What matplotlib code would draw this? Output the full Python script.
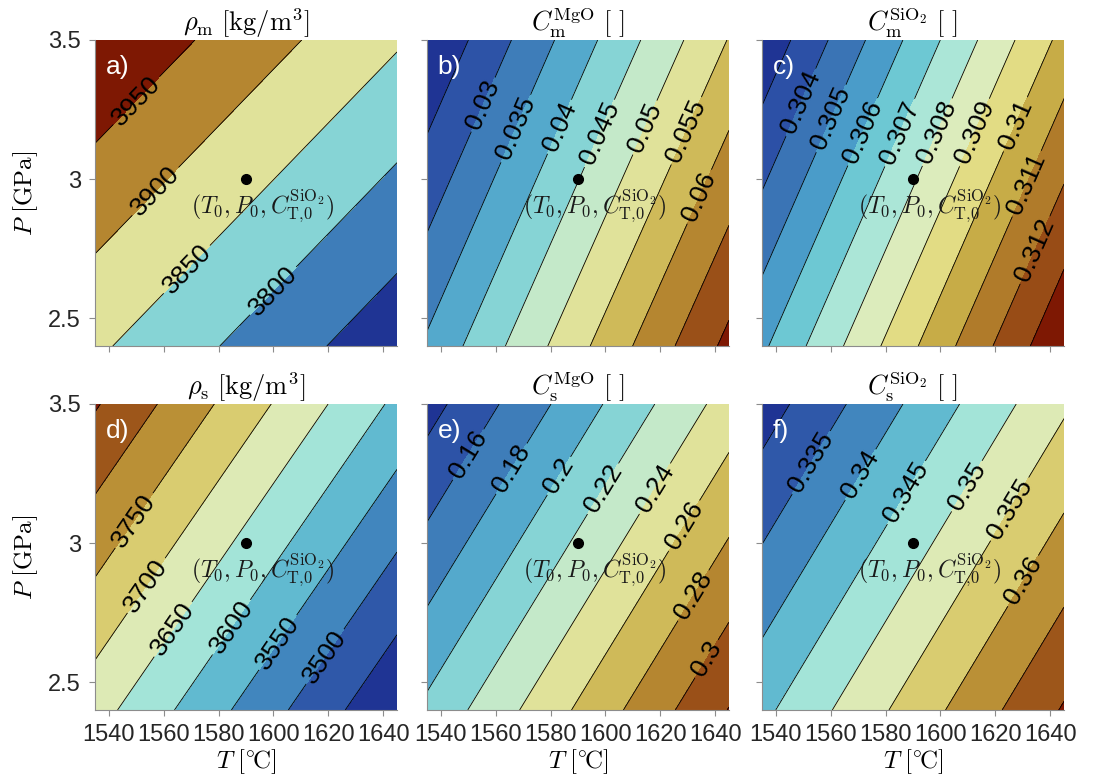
"""Six T-P contour panels: melt/solid density and MgO/SiO2 fractions."""

import matplotlib

matplotlib.use("Agg")
import matplotlib.pyplot as plt
import numpy as np
from matplotlib.colors import LinearSegmentedColormap

# T-P window of every panel (degC, GPa). The fields are planar, so the
# values at the four corners fix all contours.
T_EDGES = [1535.0, 1645.0]
P_EDGES = [2.4, 3.5]

# Corner values, rows = P (2.4, 3.5), cols = T (1535, 1645)
RHO_M = [[3858.3, 3717.2], [3996.8, 3855.4]]
C_M_MGO = [[0.03576, 0.07136], [0.0202, 0.05524]]
C_M_SIO2 = [[0.30582, 0.31390], [0.30223, 0.31031]]
RHO_S = [[3669.8, 3404.5], [3854.8, 3589.5]]
C_S_MGO = [[0.2043, 0.3207], [0.1322, 0.2486]]
C_S_SIO2 = [[0.34379, 0.37046], [0.32755, 0.35422]]

# Contour levels drawn, and the subset that carries a label
LEVELS_RHO_M = [3750, 3800, 3850, 3900, 3950]
LABELS_RHO_M = [3800, 3850, 3900, 3950]
LEVELS_C_M_MGO = [0.025, 0.03, 0.035, 0.04, 0.045, 0.05, 0.055, 0.06, 0.065, 0.07]
LABELS_C_M_MGO = [0.03, 0.035, 0.04, 0.045, 0.05, 0.055, 0.06]
LEVELS_C_M_SIO2 = [0.303, 0.304, 0.305, 0.306, 0.307, 0.308, 0.309, 0.31, 0.311, 0.312, 0.313]
LABELS_C_M_SIO2 = [0.304, 0.305, 0.306, 0.307, 0.308, 0.309, 0.31, 0.311, 0.312]
LEVELS_RHO_S = [3450, 3500, 3550, 3600, 3650, 3700, 3750, 3800, 3850]
LABELS_RHO_S = [3500, 3550, 3600, 3650, 3700, 3750]
LEVELS_C_S_MGO = [0.14, 0.16, 0.18, 0.2, 0.22, 0.24, 0.26, 0.28, 0.3, 0.32]
LABELS_C_S_MGO = [0.16, 0.18, 0.2, 0.22, 0.24, 0.26, 0.28, 0.3]
LEVELS_C_S_SIO2 = [0.33, 0.335, 0.34, 0.345, 0.35, 0.355, 0.36, 0.365, 0.37]
LABELS_C_S_SIO2 = [0.335, 0.34, 0.345, 0.35, 0.355, 0.36]

# Reference point
T0 = 1590.0
P0 = 3.0

X_TICKS = [1540, 1560, 1580, 1600, 1620, 1640]
Y_TICKS = [2.5, 3.0, 3.5]
Y_TICK_LABELS = ["2.5", "3", "3.5"]

# Where the contour labels sit (T, P), one per labelled level
LABEL_POS = {
    "a": [(1600.2, 2.595), (1568.7, 2.673), (1557.2, 2.954), (1549.9, 3.284)],
    "b": [(1557.2, 3.26), (1568.7, 3.176), (1583.3, 3.188), (1597.9, 3.164),
          (1613.7, 3.188), (1628.9, 3.176), (1634.4, 2.936)],
    "c": [(1550.0, 3.272), (1561.5, 3.212), (1573.1, 3.164), (1585.9, 3.164),
          (1599.9, 3.164), (1613.2, 3.164), (1626.6, 3.2), (1632.7, 2.978),
          (1634.5, 2.745)],
    "d": [(1619.0, 2.591), (1602.0, 2.64), (1584.5, 2.699), (1563.9, 2.687),
          (1554.2, 2.844), (1550.5, 3.072)],
    "e": [(1551.1, 3.312), (1566.3, 3.264), (1583.3, 3.24), (1599.7, 3.192),
          (1618.6, 3.192), (1629.0, 3.06), (1632.6, 2.808), (1635.6, 2.591)],
    "f": [(1554.2, 3.282), (1571.9, 3.24), (1588.9, 3.174), (1610.8, 3.198),
          (1626.6, 3.114), (1631.5, 2.856)],
}

# roma-like map, blue (low) -> pale -> brown/red (high); stops picked off
# the 12-band panel c
CMAP = LinearSegmentedColormap.from_list(
    "roma_r",
    [(0.0, "#1f3494"), (0.09, "#2c50a6"), (0.18, "#3a74b5"), (0.27, "#4a9cc9"),
     (0.36, "#6ac6d3"), (0.45, "#a8e6d8"), (0.545, "#dcecbc"), (0.636, "#e2dc84"),
     (0.727, "#c8ad48"), (0.818, "#b07c2a"), (0.909, "#984c16"), (1.0, "#7e1803")],
)

plt.rcParams["font.family"] = ["Liberation Sans", "DejaVu Sans"]
plt.rcParams["mathtext.fontset"] = "cm"

FIG_W, FIG_H = 1094, 782
COL_LEFT = [95, 427, 762]
ROW_TOP = [40, 404]
AX_W, AX_H = 302, 306


def fmt_level(v: float) -> str:
    return f"{v:g}"


def draw_panel(ax, field, levels, labeled, positions, title, letter, bottom, left):
    T = np.asarray(T_EDGES)
    P = np.asarray(P_EDGES)
    Z = np.asarray(field)
    colors = CMAP(np.linspace(0, 1, len(levels) + 1))
    ax.contourf(T, P, Z, levels=levels, colors=colors, extend="both")

    # plain lines first, then the labelled ones (broken where the label sits)
    plain = [v for v in levels if v not in labeled]
    if plain:
        ax.contour(T, P, Z, levels=plain, colors="k", linewidths=0.6)
    cs = ax.contour(T, P, Z, levels=labeled, colors="k", linewidths=0.6)
    ax.clabel(cs, manual=positions, inline=True, inline_spacing=4,
              fontsize=19, fmt=fmt_level, colors="k")

    ax.plot([T0], [P0], "o", color="k", markersize=7)
    ax.text(T0 + 6, P0 - 0.03, r"$(T_0, P_0, C_{\mathrm{T},\!0}^{\mathrm{SiO_2}})$",
            ha="center", va="top", fontsize=17, color="#1a1a1a")
    ax.text(0.035, 0.95, letter + ")", transform=ax.transAxes, ha="left",
            va="top", fontsize=19, color="white")

    ax.set_xlim(T_EDGES)
    ax.set_ylim(P_EDGES)
    ax.set_xticks(X_TICKS)
    ax.set_yticks(Y_TICKS)
    if bottom:
        ax.set_xticklabels([str(t) for t in X_TICKS])
        ax.set_xlabel(r"$T\ [^{\circ}\!\mathrm{C}]$", fontsize=18, labelpad=1)
    else:
        ax.set_xticklabels([])
    if left:
        ax.set_yticklabels(Y_TICK_LABELS)
        ax.set_ylabel(r"$P\ [\mathrm{GPa}]$", fontsize=18, labelpad=6)
    else:
        ax.set_yticklabels([])
    ax.set_title(title, fontsize=19, pad=3)

    for side in ("top", "right"):
        ax.spines[side].set_visible(False)
    for side in ("left", "bottom"):
        ax.spines[side].set_color("#8c8c8c")
        ax.spines[side].set_linewidth(0.8)
    ax.tick_params(direction="out", length=4, width=0.8, color="#8c8c8c",
                   labelsize=17, labelcolor="#262626")
    ax.tick_params(axis="x", pad=6)
    ax.tick_params(axis="y", pad=6)


def main() -> None:
    fig = plt.figure(figsize=(FIG_W / 100, FIG_H / 100), dpi=100)

    panels = [
        (RHO_M, LEVELS_RHO_M, LABELS_RHO_M, r"$\rho_{\rm m}\ [\rm kg/m^3]$", "a"),
        (C_M_MGO, LEVELS_C_M_MGO, LABELS_C_M_MGO, r"$C_{\rm m}^{\rm MgO}\ [\ ]$", "b"),
        (C_M_SIO2, LEVELS_C_M_SIO2, LABELS_C_M_SIO2, r"$C_{\rm m}^{\rm SiO_2}\ [\ ]$", "c"),
        (RHO_S, LEVELS_RHO_S, LABELS_RHO_S, r"$\rho_{\rm s}\ [\rm kg/m^3]$", "d"),
        (C_S_MGO, LEVELS_C_S_MGO, LABELS_C_S_MGO, r"$C_{\rm s}^{\rm MgO}\ [\ ]$", "e"),
        (C_S_SIO2, LEVELS_C_S_SIO2, LABELS_C_S_SIO2, r"$C_{\rm s}^{\rm SiO_2}\ [\ ]$", "f"),
    ]

    for i, (field, levels, labeled, title, letter) in enumerate(panels):
        row, col = divmod(i, 3)
        rect = [
            COL_LEFT[col] / FIG_W,
            1 - (ROW_TOP[row] + AX_H) / FIG_H,
            AX_W / FIG_W,
            AX_H / FIG_H,
        ]
        ax = fig.add_axes(rect)
        draw_panel(ax, field, levels, labeled, LABEL_POS[letter], title, letter,
                   bottom=(row == 1), left=(col == 0))

    fig.savefig("out.png", dpi=100)
    plt.close(fig)


if __name__ == "__main__":
    main()
